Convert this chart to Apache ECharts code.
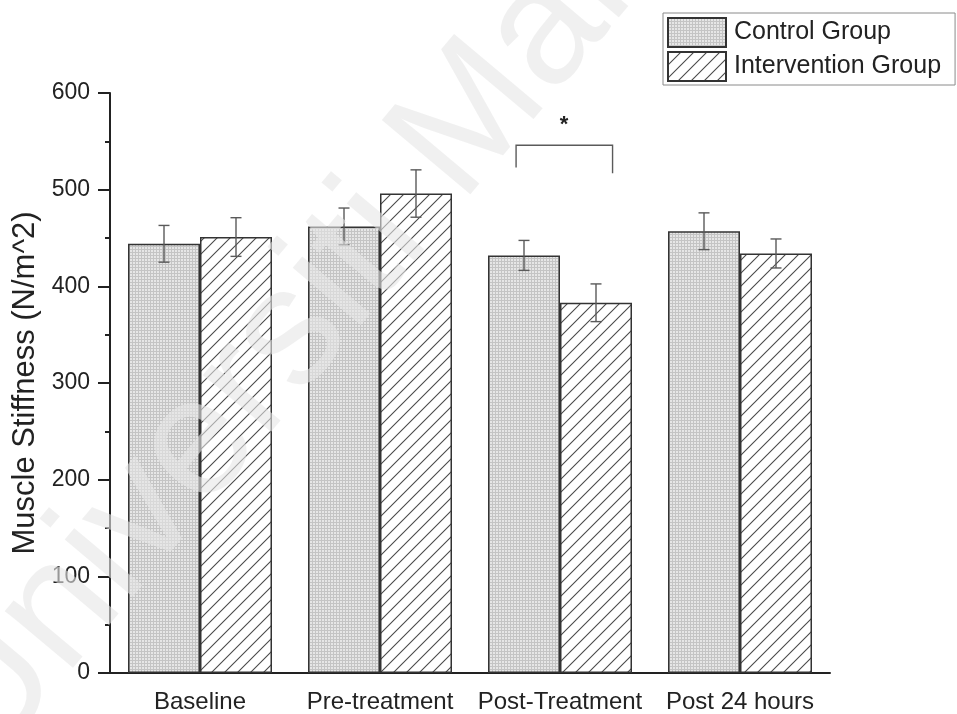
<!DOCTYPE html>
<html>
<head>
<meta charset="utf-8">
<script src="https://cdn.jsdelivr.net/npm/echarts@6/dist/echarts.min.js"></script>
<style>
  html, body { margin: 0; padding: 0; background: #ffffff; }
  #chart { width: 957px; height: 714px; }
</style>
</head>
<body>
<div id="chart"></div>
<script>
// ---- data ----
const categories = ['Baseline', 'Pre-treatment', 'Post-Treatment', 'Post 24 hours'];
const seriesNames = ['Control Group', 'Intervention Group'];
const controlMeans = [444, 462, 432, 457];
const controlErrors = [19, 19, 15.5, 19];
const interventionMeans = [451, 496, 383, 434];
const interventionErrors = [20, 24.5, 19.5, 15];
const yTicks = [0, 100, 200, 300, 400, 500, 600];
const yAxisTitle = 'Muscle Stiffness (N/m^2)';
// significance annotation (Post-Treatment)
const sigCategoryIndex = 2;
const sigBracketTop = 546;
const sigLeftLegEnd = 523;
const sigRightLegEnd = 517;
const sigLabel = '*';
const sigLabelValue = 568;
const watermarkText = 'Universiti Malaya';

// ---- styles ----
const FONT = '"Liberation Sans", Arial, sans-serif';
const INK = '#222222';

function makeGridPattern() {
  const c = document.createElement('canvas');
  c.width = 3; c.height = 3;
  const g = c.getContext('2d');
  g.fillStyle = '#e6e6e6';
  g.fillRect(0, 0, 3, 3);
  g.fillStyle = '#c4c4c4';
  g.fillRect(0, 0, 3, 1);
  g.fillRect(0, 0, 1, 3);
  return c;
}
function makeHatchPattern() {
  const s = 13;
  const c = document.createElement('canvas');
  c.width = s; c.height = s;
  const g = c.getContext('2d');
  g.fillStyle = '#ffffff';
  g.fillRect(0, 0, s, s);
  g.strokeStyle = '#4a4a4a';
  g.lineWidth = 1.1;
  g.beginPath();
  g.moveTo(-2, s + 2); g.lineTo(s + 2, -2);
  g.moveTo(-2, 2); g.lineTo(2, -2);
  g.moveTo(s - 2, s + 2); g.lineTo(s + 2, s - 2);
  g.stroke();
  return c;
}
const gridFill = { image: makeGridPattern(), repeat: 'repeat' };
const hatchFill = { image: makeHatchPattern(), repeat: 'repeat' };

const BAR_FRAC = 0.4; // bar width as fraction of category

function errorBarRenderer(offsetFrac) {
  return function (params, api) {
    const idx = api.value(0);
    const v = api.value(1);
    const e = api.value(2);
    const catW = api.size([1, 0])[0];
    const cx = api.coord([idx, v])[0] + offsetFrac * catW;
    const yTop = api.coord([idx, v + e])[1];
    const yBot = api.coord([idx, v - e])[1];
    const cap = 5.5;
    const st = { stroke: '#5a5a5a', lineWidth: 1.4 };
    return {
      type: 'group',
      children: [
        { type: 'line', shape: { x1: cx, y1: yTop, x2: cx, y2: yBot }, style: st },
        { type: 'line', shape: { x1: cx - cap, y1: yTop, x2: cx + cap, y2: yTop }, style: st },
        { type: 'line', shape: { x1: cx - cap, y1: yBot, x2: cx + cap, y2: yBot }, style: st }
      ]
    };
  };
}

function sigRenderer(params, api) {
  const idx = api.value(0);
  const catW = api.size([1, 0])[0];
  const cx = api.coord([idx, api.value(1)])[0];
  const xl = cx - 0.244 * catW;
  const xr = cx + 0.292 * catW;
  const yT = api.coord([idx, api.value(1)])[1];
  const yL = api.coord([idx, api.value(2)])[1];
  const yR = api.coord([idx, api.value(3)])[1];
  const yS = api.coord([idx, api.value(4)])[1];
  const st = { stroke: '#5a5a5a', lineWidth: 1.4, fill: null };
  return {
    type: 'group',
    children: [
      { type: 'polyline', shape: { points: [[xl, yL], [xl, yT], [xr, yT], [xr, yR]] }, style: st },
      { type: 'text', style: { text: sigLabel, x: cx + 4, y: yS + 1, align: 'center', verticalAlign: 'middle',
        font: 'bold 22px ' + FONT, fill: INK } }
    ]
  };
}

const chart = echarts.init(document.getElementById('chart'), null, { renderer: 'canvas' });

const option = {
  backgroundColor: '#ffffff',
  animation: false,
  textStyle: { fontFamily: FONT },
  grid: { left: 110, right: 127, top: 93, bottom: 41, containLabel: false },
  legend: {
    data: seriesNames,
    icon: 'rect',
    orient: 'vertical',
    left: 663,
    top: 13,
    itemWidth: 58,
    itemHeight: 29,
    itemGap: 3,
    padding: [4, 14, 3, 4],
    borderColor: '#8a8a8a',
    borderWidth: 1,
    textStyle: { fontSize: 25, color: INK, fontFamily: FONT, padding: [0, 0, 0, 3] }
  },
  xAxis: [
    {
      type: 'category',
      data: categories,
      position: 'bottom',
      axisLine: { lineStyle: { color: INK, width: 2 } },
      axisTick: { alignWithLabel: true, interval: 0, length: 11, lineStyle: { color: INK, width: 2 } },
      axisLabel: { color: INK, fontSize: 24, margin: 17, fontFamily: FONT, interval: 0 },
      splitLine: { show: false }
    },
    {
      type: 'category',
      data: categories,
      position: 'bottom',
      axisLine: { show: false },
      axisTick: { alignWithLabel: false, interval: 0, length: 5, lineStyle: { color: INK, width: 2 } },
      axisLabel: { show: false },
      splitLine: { show: false }
    }
  ],
  yAxis: {
    type: 'value',
    min: yTicks[0],
    max: yTicks[yTicks.length - 1],
    interval: yTicks[1] - yTicks[0],
    name: yAxisTitle,
    nameLocation: 'middle',
    nameGap: 64,
    nameTextStyle: { fontSize: 31, color: INK, fontFamily: FONT },
    axisLine: { show: true, lineStyle: { color: INK, width: 2 } },
    axisTick: { show: true, length: 12, lineStyle: { color: INK, width: 2 } },
    minorTick: { show: true, splitNumber: 2, length: 5, lineStyle: { color: INK, width: 2 } },
    axisLabel: { color: INK, fontSize: 23, margin: 20, fontFamily: FONT },
    splitLine: { show: false }
  },
  series: [
    {
      name: seriesNames[0],
      type: 'bar',
      data: controlMeans,
      barWidth: (BAR_FRAC * 100) + '%',
      barGap: '0%',
      itemStyle: { color: gridFill, borderColor: '#333333', borderWidth: 1.5 },
      emphasis: { disabled: true },
      z: 2
    },
    {
      name: seriesNames[1],
      type: 'bar',
      data: interventionMeans,
      barWidth: (BAR_FRAC * 100) + '%',
      barGap: '0%',
      itemStyle: { color: hatchFill, borderColor: '#333333', borderWidth: 1.5 },
      emphasis: { disabled: true },
      z: 2
    },
    {
      type: 'custom',
      name: 'err-control',
      renderItem: errorBarRenderer(-BAR_FRAC / 2),
      data: controlMeans.map((m, i) => [i, m, controlErrors[i]]),
      encode: { x: 0, y: 1 },
      z: 5,
      silent: true
    },
    {
      type: 'custom',
      name: 'err-intervention',
      renderItem: errorBarRenderer(BAR_FRAC / 2),
      data: interventionMeans.map((m, i) => [i, m, interventionErrors[i]]),
      encode: { x: 0, y: 1 },
      z: 5,
      silent: true
    },
    {
      type: 'custom',
      name: 'significance',
      renderItem: sigRenderer,
      data: [[sigCategoryIndex, sigBracketTop, sigLeftLegEnd, sigRightLegEnd, sigLabelValue]],
      encode: { x: 0, y: 1 },
      z: 5,
      silent: true
    }
  ],
  graphic: [
    {
      type: 'text',
      x: -48,
      y: 740,
      rotation: 50 * Math.PI / 180,
      z: 100,
      silent: true,
      style: {
        text: watermarkText,
        font: '168px ' + FONT,
        fill: 'rgba(230,230,230,0.6)',
        align: 'left',
        verticalAlign: 'middle'
      }
    }
  ]
};

chart.setOption(option);
</script>
</body>
</html>
